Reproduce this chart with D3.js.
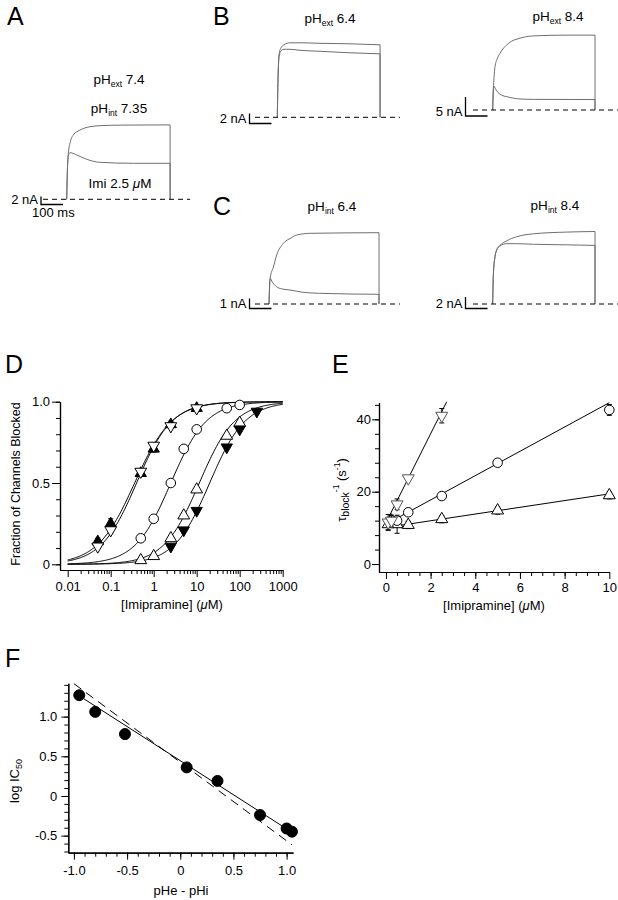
<!DOCTYPE html>
<html><head><meta charset="utf-8">
<script src="https://cdn.jsdelivr.net/npm/d3@7"></script>
<style>
body{margin:0;background:#fff}
text{font-family:"Liberation Sans",Arial,Helvetica,sans-serif;fill:#000}
</style>
</head><body>
<svg id="fig" width="618" height="900"></svg>
<script>
// ---------------- DATA ----------------
// Current traces: [time (ms from pulse onset), current (nA)]
const traceA_ctrl = [[0,0],[3,7],[7.5,11.5],[15,14],[30,16.1],[60,17.3],[106,18.15],[151,18.4],[250,18.55],[470,18.6]];
const traceA_imi  = [[0,0],[3,7],[7.5,11.0],[15,11.65],[25,11.55],[45,11.1],[91,10.0],[151,9.25],[303,9.0],[470,9.0]];
const traceB1_ctrl = [[0,0],[3.2,7.5],[7.7,12.5],[16.8,13.9],[30,14.5],[58,14.9],[103,14.9],[194,14.8],[330,14.7],[467,14.5]];
const traceB1_imi  = [[0,0],[3.2,7.5],[7.7,11.9],[16.8,13.3],[30,13.6],[58,13.6],[103,13.4],[194,13.2],[330,12.9],[467,12.7]];
const traceB2_ctrl = [[0,0],[3,5.5],[6,8.5],[10.5,11.4],[20,13.4],[33,14.9],[71,17.5],[124,18.9],[185,19.5],[336,19.7],[465,19.7]];
const traceB2_imi  = [[0,0],[3,5.5],[6,6.3],[12,5.6],[24,4.6],[40,3.9],[64,3.5],[124,2.9],[185,2.8],[465,2.75]];
const traceC1_ctrl = [[0,0],[5,2.57],[20,3.7],[35,4.9],[65,6.05],[100,6.6],[126,6.9],[190,7.07],[500,7.13]];
const traceC1_imi  = [[0,0],[5,2.57],[15,2.2],[30,1.8],[60,1.5],[95,1.4],[155,1.17],[230,1.07],[500,0.97]];
const traceC2_ctrl = [[0,0],[3,5],[10.6,8.2],[18,9.3],[33,10.1],[64,10.9],[109,11.6],[185,12.1],[336,12.4],[465,12.5]];
const traceC2_imi  = [[0,0],[3,5],[10.6,8.2],[18,9.3],[33,10.0],[64,10.4],[109,10.4],[185,10.3],[336,10.2],[465,10.1]];

// Panel D: concentration (uM), fraction blocked, sem
const dFilledUp   = [[0.05,0.14,0.02],[0.1,0.25,0.03],[0.5,0.56,0.02],[1,0.71,0.02],[2.5,0.86,0.02],[10,0.96,0.01]];
const dOpenDown   = [[0.05,0.11,0.01],[0.1,0.21,0.02],[0.5,0.57,0.01],[1,0.73,0.01],[2.5,0.85,0.01],[10,0.96,0.01]];
const dCircle     = [[0.5,0.16,0],[1,0.28,0],[2.5,0.50,0],[5,0.71,0],[10,0.83,0],[50,0.96,0],[100,0.98,0]];
const dOpenUp     = [[0.5,0.025,0],[1,0.05,0],[2.5,0.16,0],[5,0.30,0],[10,0.46,0],[50,0.79,0],[100,0.87,0]];
const dFilledDown = [[2.5,0.11,0],[5,0.21,0],[10,0.33,0],[50,0.72,0],[100,0.83,0],[250,0.94,0]];
// Hill fits: [IC50 (uM), Hill coefficient]
const dFits = [[0.36,1.0],[0.40,1.05],[2.5,1.05],[11.5,1.05],[20,1.05]];
const dXTicks = [0.01,0.1,1,10,100,1000];
const dYTicks = [0,0.5,1.0];

// Panel E: [Imipramine] (uM), 1/tau (s^-1), sem
const eDown   = [[0.1,11.5,2.2],[0.25,12,1.5],[0.5,16.5,1.5],[1,23.7,0.5],[2.5,41,2]];
const eCircle = [[0.5,12,1],[1,14.3,0.5],[2.5,18.8,0.5],[5,28,0.5],[10,42.6,1.5]];
const eUp     = [[0.1,11,1.5],[0.25,12,1],[0.5,11,2.5],[1,10.8,1],[2.5,12.4,1],[5,14.8,1],[10,19,1]];
// linear fits: [x start, x end, intercept, slope]
const eFits = [[0.1,2.72,11.4,12.3],[0.5,10,11.0,3.36],[0.5,10,10.1,0.93]];
const eXTicks = [0,2,4,6,8,10];
const eYTicks = [0,20,40];

// Panel F: pHe - pHi, log IC50, sem
const fPoints = [[-0.95,1.27,0.03],[-0.8,1.06,0.03],[-0.52,0.78,0.06],[0.06,0.36,0.03],[0.35,0.19,0.05],[0.75,-0.24,0.03],[1.0,-0.41,0.06],[1.05,-0.45,0.03]];
const fFitSolid  = [[-0.99,1.296],[1.033,-0.443]];
const fFitDashed = [[-1.0,1.415],[1.05,-0.615]];
const fXTicks = [-1.0,-0.5,0,0.5,1.0];
const fYTicks = [-0.5,0,0.5,1.0];

// ---------------- DRAWING ----------------
const svg = d3.select("#fig");
const FS = 13;
const traceColor = "#6e6e6e";

function panelLetter(t,x,y){
  svg.append("text").attr("x",x).attr("y",y).attr("font-size",25).text(t);
}
function phLabel(x,y,sub,val){
  const t = svg.append("text").attr("x",x).attr("y",y).attr("font-size",13.5).attr("text-anchor","middle");
  t.append("tspan").text("pH");
  t.append("tspan").attr("font-size",8.5).attr("dy",3).text(sub);
  t.append("tspan").attr("dy",-3).text("\u00a0"+val);
}

function tracePanel(cfg){
  const x = d3.scaleLinear().domain([0,100]).range([cfg.onsetX, cfg.onsetX+22]);
  const y = d3.scaleLinear().domain([0,1]).range([cfg.baseY, cfg.baseY-cfg.pxPerNA]);
  const line = d3.line().x(d=>x(d[0])).y(d=>y(d[1])).curve(d3.curveMonotoneX);
  [cfg.ctrl,cfg.imi].forEach(tr=>{
    svg.append("path").attr("d",line(tr)).attr("fill","none").attr("stroke",traceColor).attr("stroke-width",1);
    const last = tr[tr.length-1];
    svg.append("line").attr("x1",x(last[0])).attr("x2",x(last[0])).attr("y1",y(last[1])).attr("y2",y(0))
      .attr("stroke",traceColor).attr("stroke-width",1);
  });
  // dashed baseline
  svg.append("line").attr("x1",cfg.dash[0]).attr("x2",cfg.dash[1]).attr("y1",y(0)).attr("y2",y(0))
    .attr("stroke","#000").attr("stroke-width",1).attr("stroke-dasharray","5,4");
  // scale bar
  const bx = cfg.bar[0], by = cfg.bar[1];
  const barH = y(0)-y(cfg.barNA);
  svg.append("path").attr("d",`M${bx},${by-barH}V${by}H${bx+(x(100)-x(0))}`)
    .attr("fill","none").attr("stroke","#000").attr("stroke-width",1.3);
  svg.append("text").attr("x",bx-3).attr("y",by-0.5).attr("font-size",FS).attr("text-anchor","end").text(cfg.barNA+" nA");
  if(cfg.msLabel){
    svg.append("text").attr("x",bx-9).attr("y",by+12).attr("font-size",FS).text("100 ms");
  }
}

// Panel A
panelLetter("A",7,25);
phLabel(119,84,"ext","7.4");
phLabel(119,113,"int","7.35");
{
  const t = svg.append("text").attr("x",120).attr("y",188).attr("font-size",13.5).attr("text-anchor","middle");
  t.append("tspan").text("Imi 2.5 ");
  t.append("tspan").attr("font-style","italic").text("\u03bc");
  t.append("tspan").text("M");
}
tracePanel({onsetX:66.7, baseY:199.3, pxPerNA:4, ctrl:traceA_ctrl, imi:traceA_imi, dash:[43,190], bar:[41,204.5], barNA:2, msLabel:true});

// Panel B
panelLetter("B",213,25);
phLabel(330,23,"ext","6.4");
phLabel(558,21,"ext","8.4");
tracePanel({onsetX:277.3, baseY:117.3, pxPerNA:5, ctrl:traceB1_ctrl, imi:traceB1_imi, dash:[255,400], bar:[249.5,123.5], barNA:2});
tracePanel({onsetX:492.7, baseY:110, pxPerNA:3.8, ctrl:traceB2_ctrl, imi:traceB2_imi, dash:[473,618], bar:[465.5,116], barNA:5});

// Panel C
panelLetter("C",213,215);
phLabel(332,211,"int","6.4");
phLabel(555,210,"int","8.4");
tracePanel({onsetX:269, baseY:304, pxPerNA:10, ctrl:traceC1_ctrl, imi:traceC1_imi, dash:[255,400], bar:[249.5,308.5], barNA:1});
tracePanel({onsetX:492.7, baseY:304, pxPerNA:5.8, ctrl:traceC2_ctrl, imi:traceC2_imi, dash:[473,618], bar:[465.5,308.5], barNA:2});

// helpers for plots
function styleAxis(g){
  g.selectAll("path.domain").attr("stroke","#000").attr("stroke-width",1.2);
  g.selectAll(".tick line").attr("stroke","#000").attr("stroke-width",1);
  g.selectAll("text").attr("font-size",FS).attr("font-family",'"Liberation Sans",Arial,sans-serif');
}
function markers(data, x, y, type, opts){
  const g = svg.append("g");
  const stroke = opts.stroke||"#000";
  data.forEach(d=>{
    if(d[2]>0){
      const cx=x(d[0]);
      g.append("line").attr("x1",cx).attr("x2",cx).attr("y1",y(d[1]-d[2])).attr("y2",y(d[1]+d[2])).attr("stroke","#000").attr("stroke-width",1);
      [d[1]-d[2],d[1]+d[2]].forEach(v=>g.append("line").attr("x1",cx-2.5).attr("x2",cx+2.5).attr("y1",y(v)).attr("y2",y(v)).attr("stroke","#000").attr("stroke-width",1));
    }
  });
  data.forEach(d=>{
    const cx=x(d[0]), cy=y(d[1]);
    let sym;
    if(type==="circle") sym=d3.symbol(d3.symbolCircle, opts.size||75)();
    else sym=d3.symbol(d3.symbolTriangle, opts.size||55)();
    const rot = (type==="down")?180:0;
    g.append("path").attr("d",sym).attr("transform",`translate(${cx},${cy}) rotate(${rot})`)
      .attr("fill",opts.fill||"#fff").attr("stroke",stroke).attr("stroke-width",1);
  });
}

// ---------------- Panel D ----------------
panelLetter("D",5,373);
{
  const x = d3.scaleLog().domain([0.00662,1000]).range([60,282.7]);
  const y = d3.scaleLinear().domain([-0.035,1.0]).range([570,401.7]);
  const minors=[];
  for(let e=-2;e<3;e++) for(let m=2;m<=9;m++) minors.push(m*Math.pow(10,e));
  styleAxis(svg.append("g").attr("transform","translate(0,570)").call(d3.axisBottom(x).tickValues(minors).tickSize(4).tickSizeOuter(0).tickFormat("")));
  styleAxis(svg.append("g").attr("transform","translate(0,570)").call(d3.axisBottom(x).tickValues(dXTicks).tickSize(7).tickSizeOuter(0).tickPadding(5).tickFormat(d=>String(d))));
  const yMinor = d3.range(0,1.0001,0.1);
  styleAxis(svg.append("g").attr("transform","translate(60,0)").call(d3.axisLeft(y).tickValues(yMinor).tickSize(4).tickSizeOuter(0).tickFormat("")));
  styleAxis(svg.append("g").attr("transform","translate(60,0)").call(d3.axisLeft(y).tickValues(dYTicks).tickSize(8).tickSizeOuter(0).tickPadding(2).tickFormat(d=>d===0?"0":d3.format(".1f")(d))));
  const xs = d3.range(-2,3.0001,0.02).map(e=>Math.pow(10,e));
  dFits.forEach(p=>{
    const pts = xs.map(c=>[c, 1/(1+Math.pow(p[0]/c,p[1]))]);
    svg.append("path").attr("d",d3.line().x(d=>x(d[0])).y(d=>y(d[1]))(pts)).attr("fill","none").attr("stroke","#000").attr("stroke-width",1);
  });
  markers(dFilledUp,x,y,"up",{fill:"#000",size:55});
  markers(dOpenDown,x,y,"down",{size:60});
  markers(dCircle,x,y,"circle",{size:72});
  markers(dOpenUp,x,y,"up",{size:60});
  markers(dFilledDown,x,y,"down",{fill:"#000",size:55});
  svg.append("text").attr("transform","translate(20,484) rotate(-90)").attr("text-anchor","middle").attr("font-size",12.5).text("Fraction of Channels Blocked");
  const t = svg.append("text").attr("x",172).attr("y",609).attr("text-anchor","middle").attr("font-size",FS);
  t.append("tspan").text("[Imipramine] (");
  t.append("tspan").attr("font-style","italic").text("\u03bc");
  t.append("tspan").text("M)");
}

// ---------------- Panel E ----------------
panelLetter("E",332,373);
{
  const x = d3.scaleLinear().domain([-0.31,10]).range([379,609.3]);
  const y = d3.scaleLinear().domain([-2.2,44.6]).range([572,402.7]);
  const xMinor = d3.range(0.5,10,0.5);
  styleAxis(svg.append("g").attr("transform","translate(0,572)").call(d3.axisBottom(x).tickValues(xMinor).tickSize(4).tickSizeOuter(0).tickFormat("")));
  styleAxis(svg.append("g").attr("transform","translate(0,572)").call(d3.axisBottom(x).tickValues(eXTicks).tickSize(7).tickSizeOuter(0).tickPadding(4).tickFormat(d3.format("d"))));
  const yMinor = d3.range(4,45,4);
  styleAxis(svg.append("g").attr("transform","translate(379,0)").call(d3.axisLeft(y).tickValues(yMinor).tickSize(4).tickSizeOuter(0).tickFormat("")));
  styleAxis(svg.append("g").attr("transform","translate(379,0)").call(d3.axisLeft(y).tickValues(eYTicks).tickSize(7).tickSizeOuter(0).tickPadding(1).tickFormat(d3.format("d"))));
  eFits.forEach(f=>{
    svg.append("line").attr("x1",x(f[0])).attr("x2",x(f[1])).attr("y1",y(f[2]+f[3]*f[0])).attr("y2",y(f[2]+f[3]*f[1]))
      .attr("stroke","#000").attr("stroke-width",1);
  });
  markers(eUp,x,y,"up",{size:62});
  markers(eCircle,x,y,"circle",{size:72});
  markers(eDown,x,y,"down",{size:62,stroke:"#555"});
  const t = svg.append("text").attr("transform","translate(346,490) rotate(-90)").attr("text-anchor","middle").attr("font-size",FS);
  t.append("tspan").text("\u03c4");
  t.append("tspan").attr("font-size",10.5).attr("dy",3).text("block");
  t.append("tspan").attr("font-size",8.5).attr("dy",-10).text("-1");
  t.append("tspan").attr("dy",7).text("\u00a0(s");
  t.append("tspan").attr("font-size",8.5).attr("dy",-6).text("-1");
  t.append("tspan").attr("dy",6).text(")");
  const t2 = svg.append("text").attr("x",494).attr("y",610).attr("text-anchor","middle").attr("font-size",FS);
  t2.append("tspan").text("[Imipramine] (");
  t2.append("tspan").attr("font-style","italic").text("\u03bc");
  t2.append("tspan").text("M)");
}

// ---------------- Panel F ----------------
panelLetter("F",5,667);
{
  const x = d3.scaleLinear().domain([-1.053,1.06]).range([68.3,293]);
  const y = d3.scaleLinear().domain([-0.715,1.42]).range([852.7,683.3]);
  const xMinor = d3.range(-10,11,1).map(v=>v/10);
  styleAxis(svg.append("g").attr("transform","translate(0,852.7)").call(d3.axisBottom(x).tickValues(xMinor).tickSize(4).tickSizeOuter(0).tickFormat("")));
  styleAxis(svg.append("g").attr("transform","translate(0,852.7)").call(d3.axisBottom(x).tickValues(fXTicks).tickSize(7).tickSizeOuter(0).tickPadding(6).tickFormat(d=>d===0?"0":d3.format(".1f")(d).replace("\u2212","-"))));
  const yMinor = d3.range(-7,15,1).map(v=>v/10);
  styleAxis(svg.append("g").attr("transform","translate(68.3,0)").call(d3.axisLeft(y).tickValues(yMinor).tickSize(4).tickSizeOuter(0).tickFormat("")));
  styleAxis(svg.append("g").attr("transform","translate(68.3,0)").call(d3.axisLeft(y).tickValues(fYTicks).tickSize(7).tickSizeOuter(0).tickPadding(4).tickFormat(d=>d===0?"0":d3.format(".1f")(d).replace("\u2212","-"))));
  const ln = d3.line().x(d=>x(d[0])).y(d=>y(d[1]));
  svg.append("path").attr("d",ln(fFitDashed)).attr("fill","none").attr("stroke","#000").attr("stroke-width",1).attr("stroke-dasharray","9,6");
  svg.append("path").attr("d",ln(fFitSolid)).attr("fill","none").attr("stroke","#000").attr("stroke-width",1);
  markers(fPoints,x,y,"circle",{fill:"#000",size:95});
  const t = svg.append("text").attr("transform","translate(19,781) rotate(-90)").attr("text-anchor","middle").attr("font-size",FS);
  t.append("tspan").text("log IC");
  t.append("tspan").attr("font-size",9).attr("dy",3).text("50");
  svg.append("text").attr("x",181).attr("y",895).attr("text-anchor","middle").attr("font-size",FS).text("pHe - pHi");
}
</script>
</body></html>
